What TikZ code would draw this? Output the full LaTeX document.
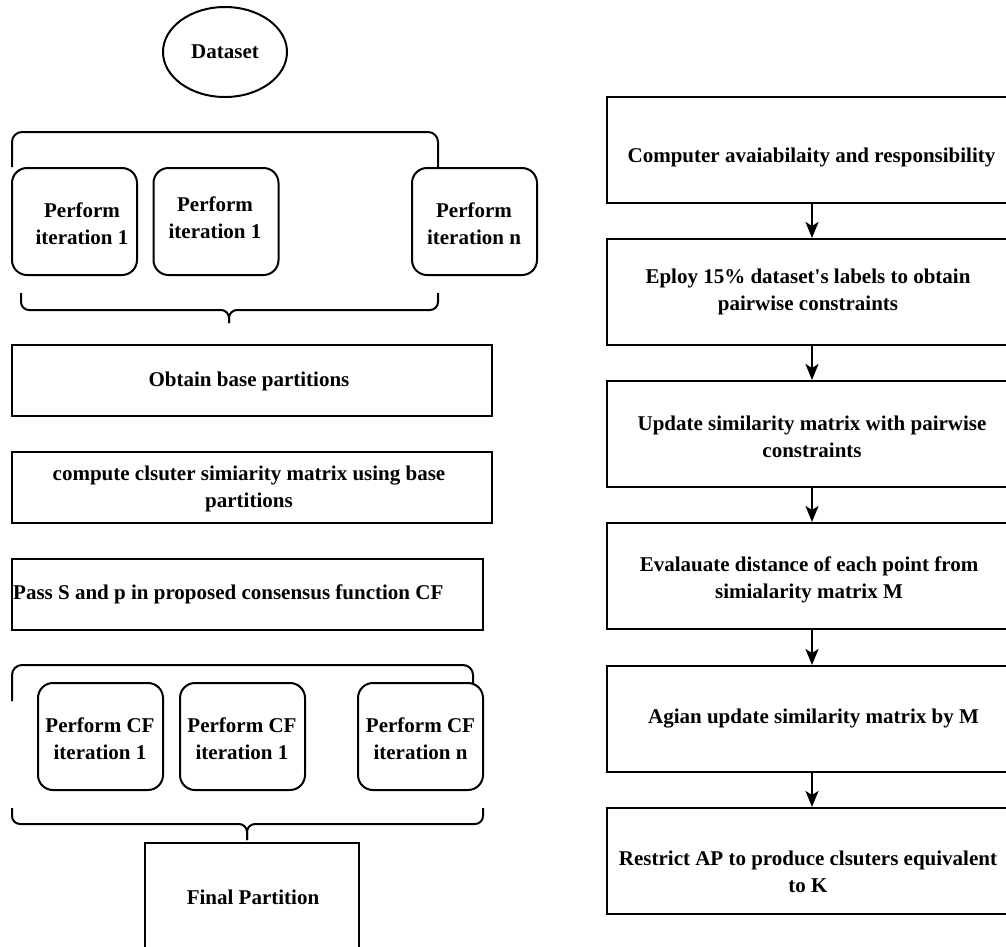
\documentclass[tikz,border=0pt]{standalone}
\usepackage{fontspec}
\setmainfont{Liberation Serif}[Ligatures=TeXOff]
\usetikzlibrary{shapes.geometric,arrows.meta}
\begin{document}
\begin{tikzpicture}[x=1pt,y=-1pt,
  every node/.style={font=\fontsize{21}{27}\selectfont\bfseries},
  rbox/.style={draw,line width=2pt,rounded corners=15pt,minimum width=125pt,minimum height=107pt,inner sep=0pt},
  sbox/.style={draw,line width=2pt,inner sep=0pt},
  txt/.style={align=center,inner sep=0pt},
  brace/.style={draw,line width=2pt,rounded corners=10pt},
  flow/.style={draw,line width=2.2pt,-{Stealth[length=16pt,width=13pt,inset=4pt]}}]

\useasboundingbox (0,0) rectangle (1006,946);

% ---------- left column ----------
\node[ellipse,draw,line width=2pt,minimum width=124pt,minimum height=90pt,inner sep=0pt] (ds) at (225,52) {Dataset};

% first round of iterations
\draw[brace] (12,167) |- (438,132) -- (438,167);
\node[rbox] (p1) at (74.5,221.5) {};
\node[txt] (p1t) at (82,224) {Perform\\iteration 1};
\node[rbox] (p2) at (216,221.5) {};
\node[txt] (p2t) at (215,218) {Perform\\iteration 1};
\node[rbox] (p3) at (474.5,221.5) {};
\node[txt] (p3t) at (474,224) {Perform\\iteration n};
\coordinate (tipA) at (229,323);
\draw[brace,rounded corners=8pt] (21,293) |- (229,310) -- (tipA);
\draw[brace,rounded corners=8pt] (438,293) |- (229,310) -- (tipA);

\node[sbox,minimum width=480pt,minimum height=71pt] (obt) at (252,380.5) {};
\node[txt] (obtt) at (249,381) {Obtain base partitions};

\node[sbox,minimum width=480pt,minimum height=71pt] (cmp) at (252,487.5) {};
\node[txt] (cmpt) at (249,489) {compute clsuter simiarity matrix using base\\partitions};

\node[sbox,minimum width=471pt,minimum height=71pt] (pas) at (247.5,594.5) {};
\node[txt,anchor=west] (past) at (13,594) {Pass S and p in proposed consensus function CF};

% consensus iterations
\draw[brace] (12,701) |- (473,665) -- (473,684);
\node[rbox] (c1) at (100.5,736.5) {};
\node[txt] (c1t) at (100,739) {Perform CF\\iteration 1};
\node[rbox] (c2) at (242.5,736.5) {};
\node[txt] (c2t) at (242,739) {Perform CF\\iteration 1};
\node[rbox] (c3) at (420.5,736.5) {};
\node[txt] (c3t) at (420.5,739) {Perform CF\\iteration n};
\coordinate (tipB) at (247,840);
\draw[brace,rounded corners=8pt] (12,808) |- (247,824) -- (tipB);
\draw[brace,rounded corners=8pt] (483,808) |- (247,824) -- (tipB);

\node[sbox,minimum width=214pt,minimum height=117pt] (fin) at (252,901.5) {};
\node[txt] (fint) at (253,897) {Final Partition};

% ---------- right column ----------
\node[sbox,minimum width=410pt,minimum height=106pt] (r1) at (812,150) {};
\node[txt] (r1t) at (811.5,157) {Computer avaiabilaity and responsibility};
\node[sbox,minimum width=410pt,minimum height=106pt] (r2) at (812,292) {};
\node[txt] (r2t) at (808,292) {Eploy 15\% dataset's labels to obtain\\pairwise constraints};
\node[sbox,minimum width=410pt,minimum height=106pt] (r3) at (812,434) {};
\node[txt] (r3t) at (812,437) {Update similarity matrix with pairwise\\constraints};
\node[sbox,minimum width=410pt,minimum height=106pt] (r4) at (812,576) {};
\node[txt] (r4t) at (809,580) {Evalauate distance of each point from\\simialarity matrix M};
\node[sbox,minimum width=410pt,minimum height=106pt] (r5) at (812,719) {};
\node[txt] (r5t) at (813.5,719) {Agian update similarity matrix by M};
\node[sbox,minimum width=410pt,minimum height=106pt] (r6) at (812,861) {};
\node[txt] (r6t) at (808,872) {Restrict AP to produce clsuters equivalent\\to K};

\draw[flow] (r1) -- (r2);
\draw[flow] (r2) -- (r3);
\draw[flow] (r3) -- (r4);
\draw[flow] (r4) -- (r5);
\draw[flow] (r5) -- (r6);
\end{tikzpicture}
\end{document}
